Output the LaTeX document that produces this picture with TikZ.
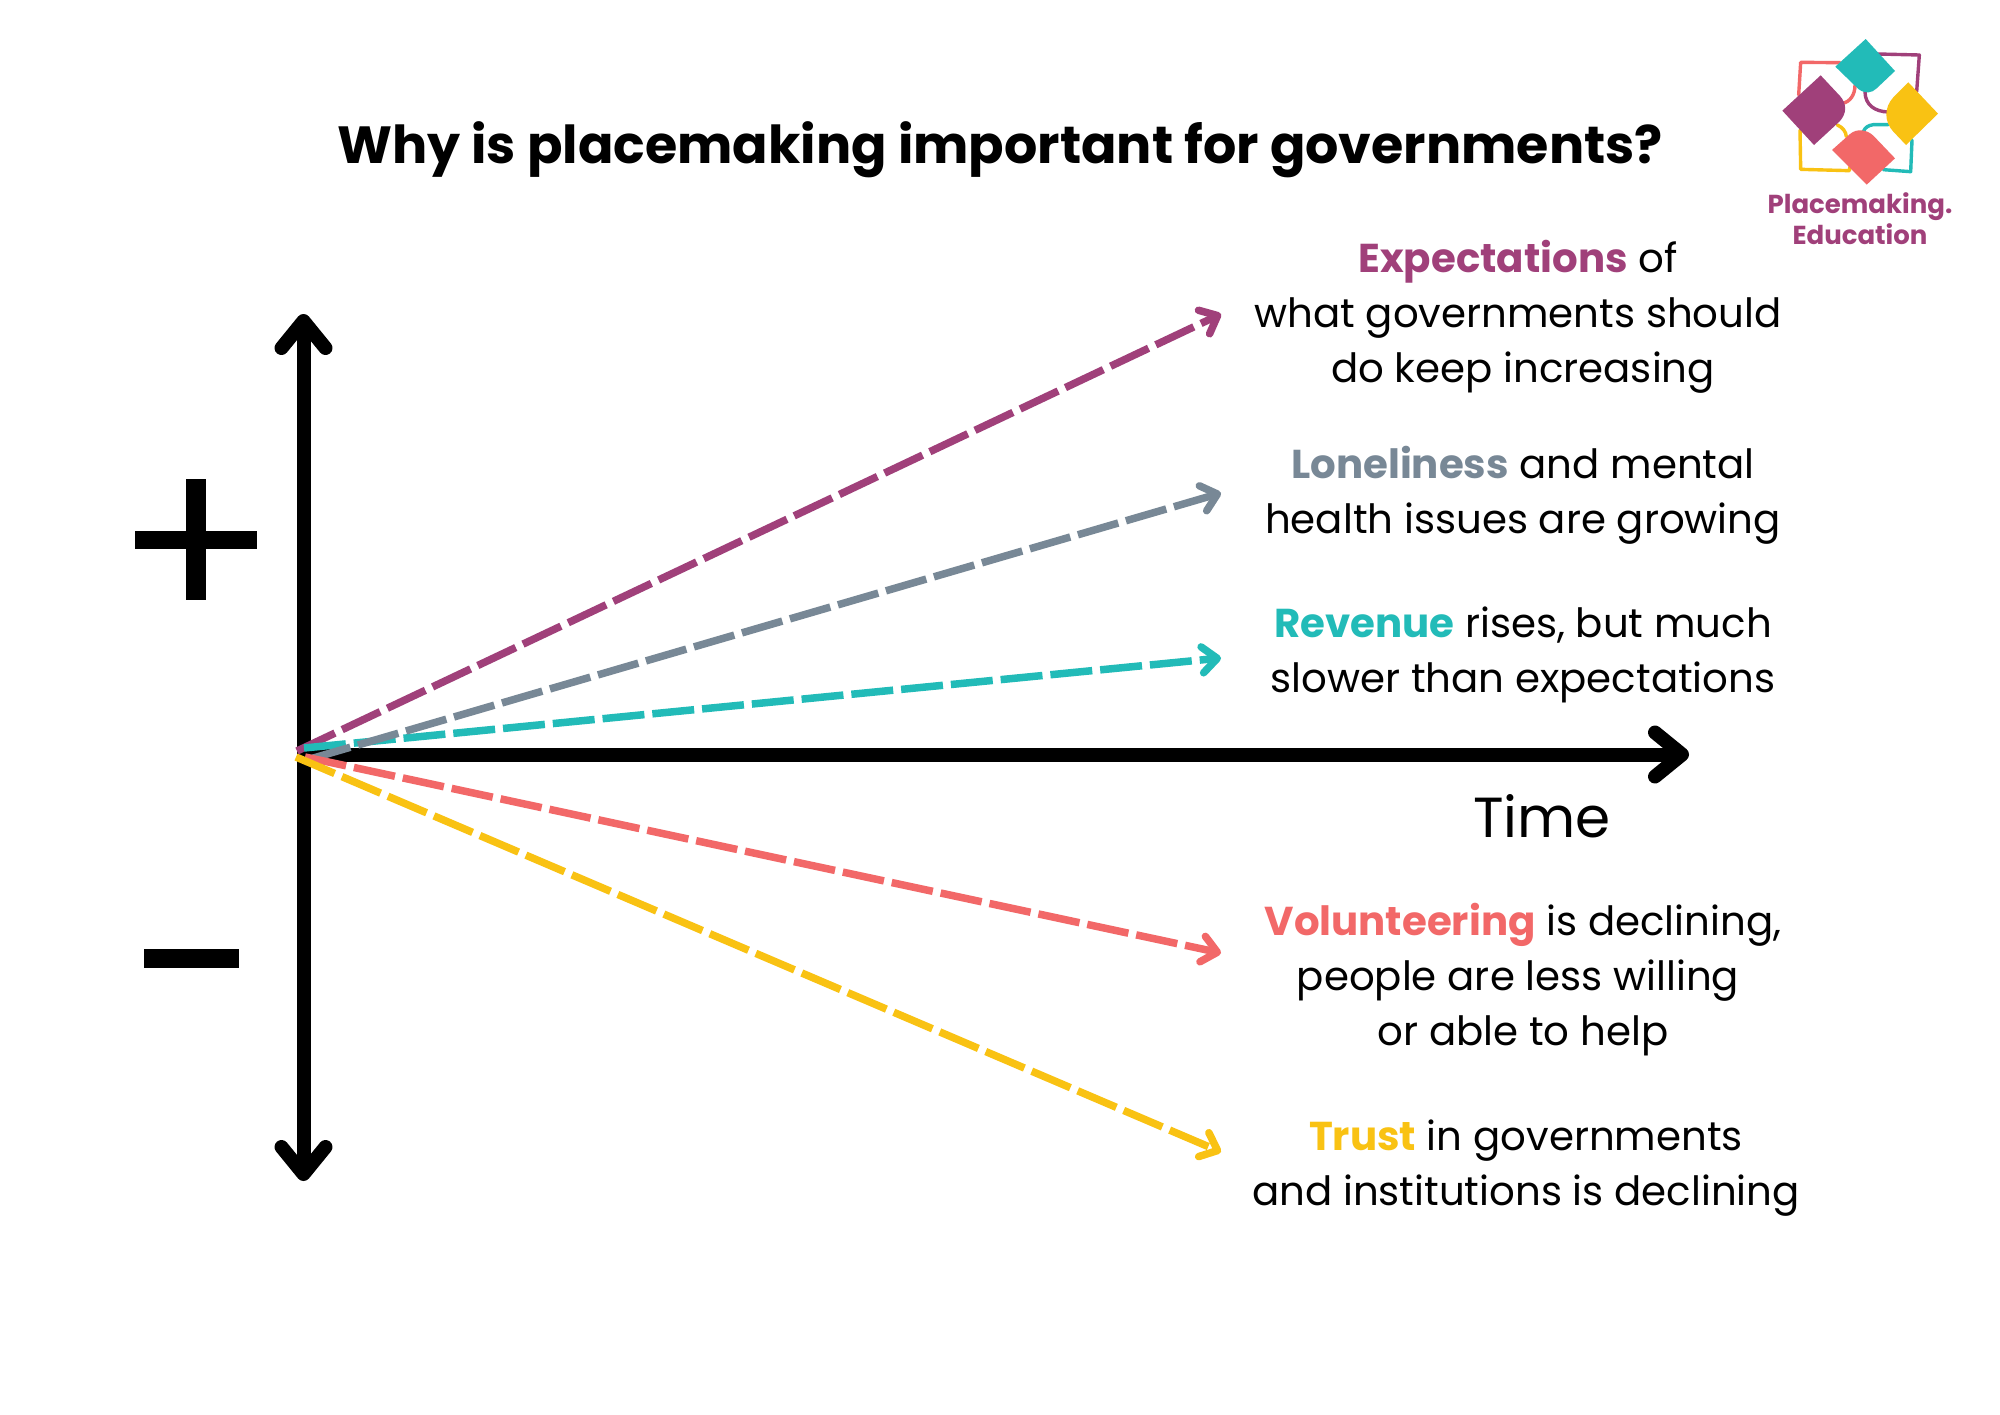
\documentclass[tikz,border=0pt]{standalone}
\usepackage{fontspec}
\setmainfont{Poppins}
\usetikzlibrary{arrows.meta}
\definecolor{cMag}{HTML}{A0407A}
\definecolor{cGrey}{HTML}{788896}
\definecolor{cTeal}{HTML}{22BBB8}
\definecolor{cCoral}{HTML}{F26868}
\definecolor{cYel}{HTML}{F9C213}
\tikzset{
  axisline/.style={line width=14pt,black,{Straight Barb[length=27pt,width=44pt,round]}-{Straight Barb[length=27pt,width=44pt,round]}},
  axisend/.style={line width=14pt,black,-{Straight Barb[length=27pt,width=44pt,round]}},
  trend/.style={line width=7.5pt,dash pattern=on 42pt off 8pt,-{Straight Barb[length=15pt,width=26pt,round]}},
  lbl/.style={inner sep=0pt,align=center,anchor=base,font=\fontsize{40.3}{55}\selectfont},
  sym/.style={fill=black,draw=none},
  loop/.style={line width=3.4pt,line cap=round,line join=round,fill=none},
}
\newcommand{\hl}[2]{\textcolor{#1}{\textbf{#2}}}
\begin{document}
\begin{tikzpicture}[x=1pt,y=-1pt]
\useasboundingbox (0,0) rectangle (2000,1414);
\fill[white] (0,0) rectangle (2000,1414);

\node[inner sep=0pt,anchor=base,font=\fontsize{52.3}{60}\selectfont\bfseries] (title) at (1000,163) {Why is placemaking important for governments?};

% axes
\coordinate (vtop) at (303.5,314);
\coordinate (vbot) at (303.5,1181);
\coordinate (hstart) at (304,754.5);
\coordinate (hend) at (1689,754.5);
\draw[axisline] (vbot) -- (vtop);
\draw[axisend] (hstart) -- (hend);

% plus and minus
\fill[sym] (186,479) rectangle (206,600);
\fill[sym] (135,531) rectangle (257,549);
\fill[sym] (144,949) rectangle (239,968);

% trend origins and ends
\coordinate (mS) at (297,751);
\coordinate (mE) at (1221,314);
\coordinate (gS) at (310,759);
\coordinate (gE) at (1221,493);
\coordinate (tS) at (304,748);
\coordinate (tE) at (1221,658);
\coordinate (cS) at (305,757);
\coordinate (cE) at (1221,953);
\coordinate (yS) at (296,757);
\coordinate (yE) at (1221,1152);
\draw[trend,cMag] (mS) -- (mE);
\draw[trend,cTeal] (tS) -- (tE);
\draw[trend,cGrey] (gS) -- (gE);
\draw[trend,cCoral] (cS) -- (cE);
\draw[trend,cYel] (yS) -- (yE);

% labels
\node[lbl] (lExp) at (1518,382) {\hl{cMag}{Expectations} of\\what governments should\\\hspace*{10pt}do keep increasing};
\node[lbl] (lLon) at (1523,533) {\hl{cGrey}{Loneliness} and mental\\health issues are growing};
\node[lbl] (lRev) at (1523,692) {\hl{cTeal}{Revenue} rises, but much\\slower than expectations};
\node[lbl] (lVol) at (1523,1045) {\hl{cCoral}{Volunteering} is declining,\\\hspace*{-10pt}people are less willing\\or able to help};
\node[lbl] (lTru) at (1526,1205) {\hl{cYel}{Trust} in governments\\and institutions is declining};
\node[inner sep=0pt,anchor=base,font=\fontsize{56.5}{60}\selectfont] (lTime) at (1542,837) {Time};

% logo
\begin{scope}[xshift=1760pt,yshift=-20pt,x=0.33333pt,y=-0.33333pt]
  \draw[loop,cCoral] (240,128) -- (122,127) -- (116,225);
  \draw[loop,cCoral] (285,195) .. controls (285,225) and (270,245) .. (248,250);
  \draw[loop,cMag] (355,102) -- (478,105) -- (470,215);
  \draw[loop,cMag] (315,215) .. controls (315,255) and (345,275) .. (385,276);
  \draw[loop,cYel] (120,330) -- (122,448) -- (268,452) -- (270,440);
  \draw[loop,cYel] (232,315) .. controls (248,322) and (258,335) .. (259,350);
  \draw[loop,cTeal] (456,360) -- (452,455) -- (370,449);
  \draw[loop,cTeal] (385,314) -- (340,314) .. controls (325,316) and (315,322) .. (310,335);
  \fill[cTeal] (226,140) -- (317,57) -- (405,153) -- (350,205) .. controls (335,220) and (315,222) .. (295,207) -- cycle;
  \fill[cMag] (67,272) -- (182,166) -- (240,228) .. controls (260,250) and (262,280) .. (238,305) -- (162,375) -- cycle;
  \fill[cYel] (445,187) -- (534,281) -- (438,375) -- (400,335) .. controls (372,305) and (372,262) .. (400,232) -- cycle;
  \fill[cCoral] (216,390) -- (270,342) .. controls (290,325) and (320,328) .. (340,347) -- (405,415) -- (320,494) -- cycle;
\end{scope}
\node[inner sep=0pt,align=center,anchor=base,text=cMag,font=\fontsize{26}{31}\selectfont\bfseries] (lLogo) at (1860,244) {Placemaking.\\Education};
\end{tikzpicture}
\end{document}
